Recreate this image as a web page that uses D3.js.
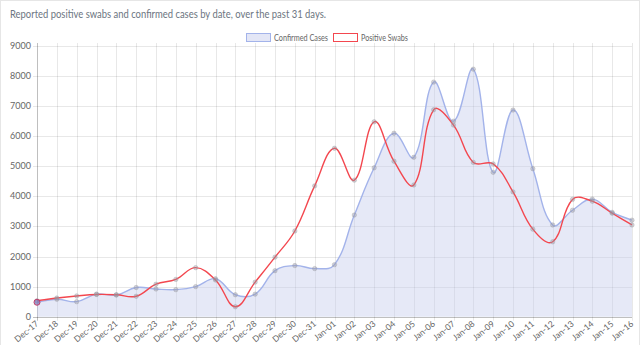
<!DOCTYPE html>
<html><head><meta charset="utf-8">
<script src="https://cdn.jsdelivr.net/npm/d3@7"></script>
<style>html,body{margin:0;padding:0;background:#fff;}svg{display:block;}</style>
</head><body>
<script>
const dates = ["Dec-17","Dec-18","Dec-19","Dec-20","Dec-21","Dec-22","Dec-23","Dec-24","Dec-25","Dec-26","Dec-27","Dec-28","Dec-29","Dec-30","Dec-31","Jan-01","Jan-02","Jan-03","Jan-04","Jan-05","Jan-06","Jan-07","Jan-08","Jan-09","Jan-10","Jan-11","Jan-12","Jan-13","Jan-14","Jan-15","Jan-16"];
const confirmedCases = [480,580,500,750,720,970,920,900,1000,1260,730,750,1530,1700,1600,1730,3380,4950,6100,5300,7800,6500,8230,4800,6870,4920,3050,3540,3910,3470,3210];
const positiveSwabs = [530,620,690,740,730,680,1080,1240,1630,1220,330,1150,1980,2850,4350,5600,4540,6480,5170,4380,6880,6370,5130,5080,4150,2910,2490,3900,3840,3440,3050];
const yTicks = [0,1000,2000,3000,4000,5000,6000,7000,8000,9000];
const titleText = "Reported positive swabs and confirmed cases by date, over the past 31 days.";
const legendLabels = ["Confirmed Cases","Positive Swabs"];

const W = 640, H = 345;
const m = {left:37, right:8, top:46, bottom:28};
const svg = d3.select("body").append("svg").attr("width",W).attr("height",H);
const font = "Lato, 'Open Sans', sans-serif";

svg.append("rect").attr("x",0.5).attr("y",0.5).attr("width",W-1).attr("height",H+5).attr("fill","none").attr("stroke","#e6e6e6");

svg.append("text").attr("x",10).attr("y",18).attr("fill","#6c7581")
  .attr("font-family",font).attr("font-size",12)
  .attr("textLength",316).attr("lengthAdjust","spacingAndGlyphs").text(titleText);

const x = d3.scalePoint().domain(dates).range([m.left, W - m.right]);
const y = d3.scaleLinear().domain([0,9000]).range([H - m.bottom - 0.3, m.top]);

// grid
const g = svg.append("g");
g.selectAll(".hg").data(yTicks).join("line")
  .attr("x1", m.left-4).attr("x2", W-m.right)
  .attr("y1", d=>Math.round(y(d))+0.5).attr("y2", d=>Math.round(y(d))+0.5)
  .attr("stroke", d=> d===0 ? "rgba(0,0,0,0.25)" : "rgba(0,0,0,0.09)");
g.selectAll(".vg").data(dates).join("line")
  .attr("x1", d=>Math.round(x(d))+0.5).attr("x2", d=>Math.round(x(d))+0.5)
  .attr("y1", m.top-3).attr("y2", y(0)+4)
  .attr("stroke", (d,i)=> i===0 ? "rgba(0,0,0,0.25)" : "rgba(0,0,0,0.09)");

// y labels
svg.selectAll(".yl").data(yTicks).join("text")
  .attr("x", m.left-6).attr("y", d=>y(d)+3)
  .attr("text-anchor","end").attr("fill","#666").attr("font-family",font).attr("font-size",9)
  .text(d=>d);

// x labels
svg.selectAll(".xl").data(dates).join("text")
  .attr("transform", d=>`translate(${x(d)+2},${y(0)+8}) rotate(-40)`)
  .attr("text-anchor","end").attr("fill","#666").attr("font-family",font).attr("font-size",8.5)
  .text(d=>d);

// Chart.js-style spline
function splinePath(vals, close) {
  const pts = vals.map((v,i)=>({x:x(dates[i]), y:y(v)}));
  const t = 0.4, n = pts.length;
  const cps = pts.map((cur,i)=>{
    const prev = pts[i-1]||cur, next = pts[i+1]||cur;
    const d01 = Math.hypot(cur.x-prev.x, cur.y-prev.y);
    const d12 = Math.hypot(next.x-cur.x, next.y-cur.y);
    let s01 = d01/(d01+d12), s12 = d12/(d01+d12);
    if (!isFinite(s01)) s01 = 0; if (!isFinite(s12)) s12 = 0;
    const fa = t*s01, fb = t*s12;
    const clampY = v => Math.max(m.top, Math.min(y(0), v));
    return {
      p:{x:cur.x - fa*(next.x-prev.x), y:clampY(cur.y - fa*(next.y-prev.y))},
      n:{x:cur.x + fb*(next.x-prev.x), y:clampY(cur.y + fb*(next.y-prev.y))}
    };
  });
  const p = d3.path();
  p.moveTo(pts[0].x, pts[0].y);
  for (let i=1;i<n;i++) p.bezierCurveTo(cps[i-1].n.x, cps[i-1].n.y, cps[i].p.x, cps[i].p.y, pts[i].x, pts[i].y);
  if (close) { p.lineTo(pts[n-1].x, y(0)); p.lineTo(pts[0].x, y(0)); p.closePath(); }
  return p.toString();
}

svg.append("path").attr("d", splinePath(confirmedCases, true)).attr("fill","rgba(196,202,236,0.42)").attr("stroke","none");
svg.append("path").attr("d", splinePath(confirmedCases, false)).attr("fill","none").attr("stroke","#a3b3ea").attr("stroke-width",1.4);
svg.append("path").attr("d", splinePath(positiveSwabs, false)).attr("fill","none").attr("stroke","#f3474f").attr("stroke-width",1.4);

// points
[confirmedCases, positiveSwabs].forEach(arr=>{
  svg.selectAll(null).data(arr).join("circle")
    .attr("cx",(d,i)=>x(dates[i])).attr("cy",d=>y(d)).attr("r",2.2)
    .attr("fill","rgba(150,150,160,0.4)").attr("stroke","rgba(150,150,160,0.45)").attr("stroke-width",0.8);
});
svg.append("circle").attr("cx",x(dates[0])).attr("cy",y(confirmedCases[0])).attr("r",3)
  .attr("fill","rgba(120,110,200,0.5)").attr("stroke","#c0406a").attr("stroke-width",1);

// legend
const lg = svg.append("g");
lg.append("rect").attr("x",246.5).attr("y",33.5).attr("width",24).attr("height",8)
  .attr("fill","#e3e6f6").attr("stroke","#a3b3ea");
lg.append("text").attr("x",274).attr("y",40.5).attr("fill","#666").attr("font-family",font).attr("font-size",8.5)
  .attr("textLength",54).attr("lengthAdjust","spacingAndGlyphs").text(legendLabels[0]);
lg.append("rect").attr("x",333.5).attr("y",33.5).attr("width",24).attr("height",8)
  .attr("fill","#fff").attr("stroke","#f3474f");
lg.append("text").attr("x",361).attr("y",40.5).attr("fill","#666").attr("font-family",font).attr("font-size",8.5)
  .attr("textLength",47).attr("lengthAdjust","spacingAndGlyphs").text(legendLabels[1]);
</script>
</body></html>
